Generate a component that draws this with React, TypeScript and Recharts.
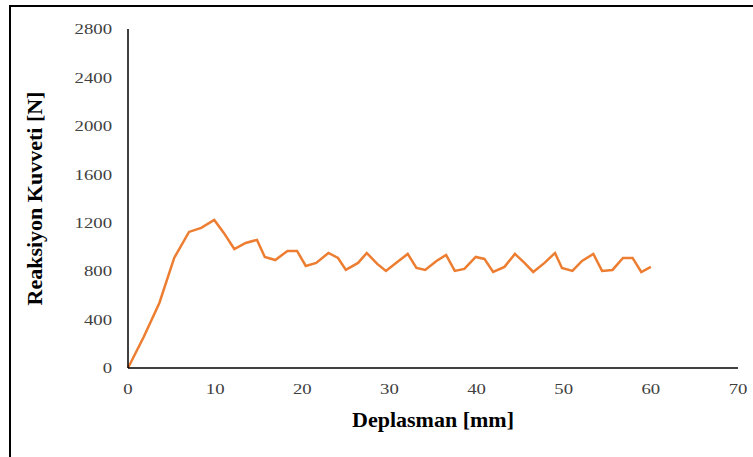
import { Line, LineChart, XAxis, YAxis } from "recharts";

const displacement = [
  0, 1.8, 3.6, 5.3, 7.0, 8.4, 9.9, 11.0, 12.2, 13.5, 14.8, 15.7, 16.9, 18.3, 19.4,
  20.4, 21.6, 23.0, 24.1, 25.0, 26.4, 27.4, 28.6, 29.6, 30.9, 32.1, 33.1, 34.1,
  35.4, 36.5, 37.5, 38.6, 39.9, 40.9, 41.9, 43.2, 44.4, 45.5, 46.5, 47.8, 49.0,
  49.8, 51.0, 52.1, 53.4, 54.4, 55.6, 56.8, 57.9, 58.9, 60.0,
];
const force = [
  0, 256, 537, 909, 1124, 1157, 1223, 1116, 983, 1033, 1058, 917, 892, 967, 967,
  843, 868, 950, 909, 810, 868, 950, 860, 802, 876, 942, 826, 810,
  884, 934, 802, 818, 917, 901, 793, 835, 942, 868, 793, 868, 950,
  826, 802, 884, 942, 802, 810, 909, 909, 793, 835,
];
const xTicks = [0, 10, 20, 30, 40, 50, 60, 70];
const yTicks = [0, 400, 800, 1200, 1600, 2000, 2400, 2800];

const data = displacement.map((x, i) => ({ x, y: force[i] }));

const font = "'Liberation Serif', 'Times New Roman', serif";
const tickColor = "#404040";

// the original picture is stretched sideways a bit, so the digits are widened
const XTick = ({ x, y, payload }: any) => (
  <g transform={`translate(${x},${y}) scale(1.25,1)`}>
    <text x={0} y={0} dy="0.71em" textAnchor="middle" fontSize={15} fontFamily={font} fill={tickColor}>
      {payload.value}
    </text>
  </g>
);

const YTick = ({ x, y, payload }: any) => (
  <g transform={`translate(${x},${y}) scale(1.25,1)`}>
    <text x={0} y={0} dy="0.35em" textAnchor="end" fontSize={15} fontFamily={font} fill={tickColor}>
      {payload.value}
    </text>
  </g>
);

const XTitle = ({ viewBox }: any) => (
  <text
    x={viewBox.x + viewBox.width / 2}
    y={viewBox.y + 59}
    textAnchor="middle"
    fontSize={22}
    fontWeight="bold"
    fontFamily={font}
    fill="#000"
  >
    Deplasman [mm]
  </text>
);

const YTitle = ({ viewBox }: any) => {
  const cy = viewBox.y + viewBox.height / 2;
  return (
    <text
      transform={`translate(31,${cy}) rotate(-90)`}
      textAnchor="middle"
      fontSize={22}
      fontWeight="bold"
      fontFamily={font}
      fill="#000"
    >
      Reaksiyon Kuvveti [N]
    </text>
  );
};

const App = () => {
  return (
    <div
      style={{
        position: "absolute",
        left: 9,
        top: 5,
        width: 744,
        height: 452,
        borderTop: "2px solid #000",
        borderLeft: "2px solid #000",
        boxSizing: "border-box",
        background: "#fff",
        overflow: "hidden",
      }}
    >
      <LineChart
        width={742}
        height={450}
        data={data}
        margin={{ top: 22, right: 15, left: 57, bottom: 59 }}
        style={{ fontFamily: font }}
      >
        <XAxis
          dataKey="x"
          type="number"
          domain={[0, 70]}
          ticks={xTicks}
          tickLine={false}
          axisLine={{ stroke: "#000", strokeWidth: 1.5 }}
          tick={<XTick />}
          tickMargin={9}
          label={<XTitle />}
        />
        <YAxis
          type="number"
          domain={[0, 2800]}
          ticks={yTicks}
          width={60}
          tickLine={false}
          axisLine={{ stroke: "#000", strokeWidth: 1.5 }}
          tick={<YTick />}
          tickMargin={10}
          label={<YTitle />}
        />
        <Line
          type="linear"
          dataKey="y"
          stroke="#ED7D31"
          strokeWidth={2.5}
          dot={false}
          isAnimationActive={false}
        />
      </LineChart>
    </div>
  );
};

export default App;
